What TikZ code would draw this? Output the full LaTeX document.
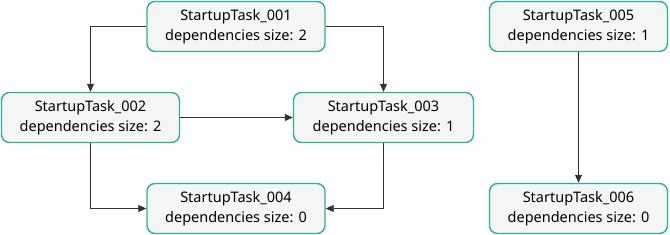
\documentclass[tikz,border=0pt]{standalone}
\usepackage{fontspec}
\setmainfont{Noto Sans}
\usetikzlibrary{arrows.meta,positioning}

\definecolor{taskedge}{HTML}{2DB09A}
\definecolor{taskfill}{HTML}{F4F6F5}
\definecolor{depline}{HTML}{333333}

\begin{document}
\begin{tikzpicture}[x=1pt,y=-1pt,
  task/.style={rectangle,rounded corners=8pt,draw=taskedge,line width=1.4pt,
    fill=taskfill,minimum width=178pt,minimum height=50pt,align=center,
    font=\fontsize{14.5}{19.5}\selectfont,inner sep=2pt},
  dep/.style={-{Triangle[length=8pt,width=7pt]},line width=0.8pt,draw=depline}]

  \useasboundingbox (0,0) rectangle (670,235);

  \node[task] (t1) at (236,26.5)   {StartupTask\_001\\dependencies size: 2};
  \node[task] (t2) at (90.5,117.5) {StartupTask\_002\\dependencies size: 2};
  \node[task,minimum width=180pt] (t3) at (383.5,117.5) {StartupTask\_003\\dependencies size: 1};
  \node[task] (t4) at (236,208.5)  {StartupTask\_004\\dependencies size: 0};
  \node[task] (t5) at (578.5,26.5) {StartupTask\_005\\dependencies size: 1};
  \node[task] (t6) at (578.5,208.5) {StartupTask\_006\\dependencies size: 0};

  \draw[dep] (t1.west) -| (t2.north);
  \draw[dep] (t1.east) -| (t3.north);
  \draw[dep] (t2.east) -- (t3.west);
  \draw[dep] (t2.south) |- (t4.west);
  \draw[dep] (t3.south) |- (t4.east);
  \draw[dep] (t5.south) -- (t6.north);
\end{tikzpicture}
\end{document}
